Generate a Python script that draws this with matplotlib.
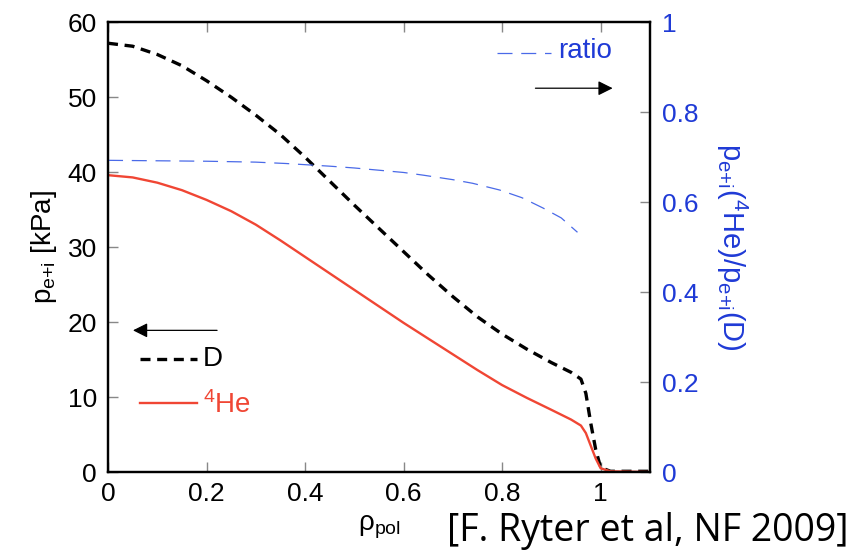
import numpy as np
import matplotlib
matplotlib.use('Agg')
import matplotlib.pyplot as plt

plt.rcParams['font.family'] = ['Liberation Sans', 'DejaVu Sans']
plt.rcParams['mathtext.fontset'] = 'custom'
plt.rcParams['mathtext.rm'] = 'Liberation Sans'
plt.rcParams['mathtext.it'] = 'Liberation Sans'

# Perfiles de presion
rho_D = [0, 0.05, 0.1, 0.15, 0.2, 0.25, 0.3, 0.35, 0.4, 0.45, 0.5, 0.55, 0.6,
         0.65, 0.7, 0.75, 0.8, 0.85, 0.9, 0.94, 0.96, 0.97, 0.98, 0.99, 1.0,
         1.02, 1.1]
p_D = [57.2, 56.8, 55.7, 54.2, 52.2, 50.0, 47.6, 45.0, 42.0, 38.8, 35.6, 32.5,
       29.4, 26.3, 23.4, 20.7, 18.4, 16.4, 14.6, 13.3, 12.4, 10.5, 6.5, 3.0,
       0.6, 0.1, 0.1]

rho_He = [0, 0.05, 0.1, 0.15, 0.2, 0.25, 0.3, 0.35, 0.4, 0.45, 0.5, 0.55, 0.6,
          0.65, 0.7, 0.75, 0.8, 0.85, 0.9, 0.94, 0.96, 0.97, 0.98, 0.99, 1.0,
          1.02, 1.1]
p_He = [39.6, 39.3, 38.6, 37.6, 36.3, 34.8, 33.0, 30.9, 28.7, 26.5, 24.3, 22.1,
        19.9, 17.8, 15.7, 13.6, 11.6, 9.9, 8.3, 7.0, 6.2, 5.2, 3.5, 1.8, 0.5,
        0.1, 0.0]

rho_r = [0, 0.1, 0.2, 0.3, 0.36, 0.45, 0.5, 0.6, 0.64, 0.7, 0.74, 0.795,
         0.84, 0.883, 0.92, 0.953]
ratio = [0.693, 0.692, 0.691, 0.689, 0.686, 0.680, 0.676, 0.666, 0.660, 0.650,
         0.642, 0.627, 0.610, 0.587, 0.565, 0.533]

negro = 'black'
rojo = '#f04634'
azul = '#1f3ad6'
azul_claro = '#4a6ae8'

fig = plt.figure(figsize=(8.54, 5.56), dpi=100)
ax = fig.add_axes([0.1265, 0.151, 0.6345, 0.809])
ax2 = ax.twinx()

ax.plot(rho_D, p_D, color=negro, lw=2.4, ls=(0, (3, 2)))
ax.plot(rho_He, p_He, color=rojo, lw=1.7)
ax2.plot(rho_r, ratio, color=azul_claro, lw=0.9, ls=(0, (12, 7)))

ax.set_xlim(0, 1.1)
ax.set_ylim(0, 60)
ax2.set_ylim(0, 1)

ax.set_xticks([0, 0.2, 0.4, 0.6, 0.8, 1.0])
ax.set_xticklabels(['0', '0.2', '0.4', '0.6', '0.8', '1'])
ax.set_yticks(range(0, 61, 10))
ax2.set_yticks([0, 0.2, 0.4, 0.6, 0.8, 1.0])
ax2.set_yticklabels(['0', '0.2', '0.4', '0.6', '0.8', '1'])

ax.tick_params(axis='x', direction='in', top=True, length=7, width=1,
               color='#888888', labelsize=19, pad=7)
ax.tick_params(axis='y', direction='in', length=7, width=1,
               color='#888888', labelsize=19, pad=8)
ax2.tick_params(axis='y', direction='in', length=7, width=1,
                color='#888888', labelsize=19, labelcolor=azul, pad=9)

for a in (ax, ax2):
    for s in a.spines.values():
        s.set_linewidth(1.6)

ax.set_ylabel(r'$\mathrm{p_{e{+}i}}$ [kPa]', fontsize=20, labelpad=6)
ax.set_xlabel(r'$\mathrm{ρ_{pol}}$', fontsize=20, labelpad=6)
ax2.set_ylabel(r'$\mathrm{p_{e{+}i}(^4He)/p_{e{+}i}(D)}$', fontsize=21,
               color=azul, rotation=-90, labelpad=36)

# Leyendas dibujadas a mano
ax.annotate('', xy=(0.045, 18.9), xytext=(0.227, 18.9),
            arrowprops=dict(arrowstyle='-|>', color=negro, lw=0.9,
                            mutation_scale=22))
ax.plot([0.065, 0.18], [15.1, 15.1], color=negro, lw=2.4, ls=(0, (3, 2)))
ax.text(0.192, 15.1, 'D', fontsize=20, va='center', color=negro)
ax.plot([0.065, 0.18], [9.2, 9.2], color=rojo, lw=1.7)
ax.text(0.192, 8.9, r'$\mathrm{^4He}$', fontsize=20, va='center', color=rojo)

ax.plot([0.789, 0.899], [55.9, 55.9], color=azul_claro, lw=0.9,
        ls=(0, (12, 7)))
ax.text(0.913, 56.2, 'ratio', fontsize=20, va='center', color=azul)
ax.annotate('', xy=(1.03, 51.2), xytext=(0.862, 51.2),
            arrowprops=dict(arrowstyle='-|>', color=negro, lw=0.9,
                            mutation_scale=22))

fig.text(0.993, 0.045, '[F. Ryter et al, NF 2009]', fontsize=27,
         family=['Open Sans', 'DejaVu Sans'], ha='right', va='center')

fig.savefig('out.png', dpi=100)
